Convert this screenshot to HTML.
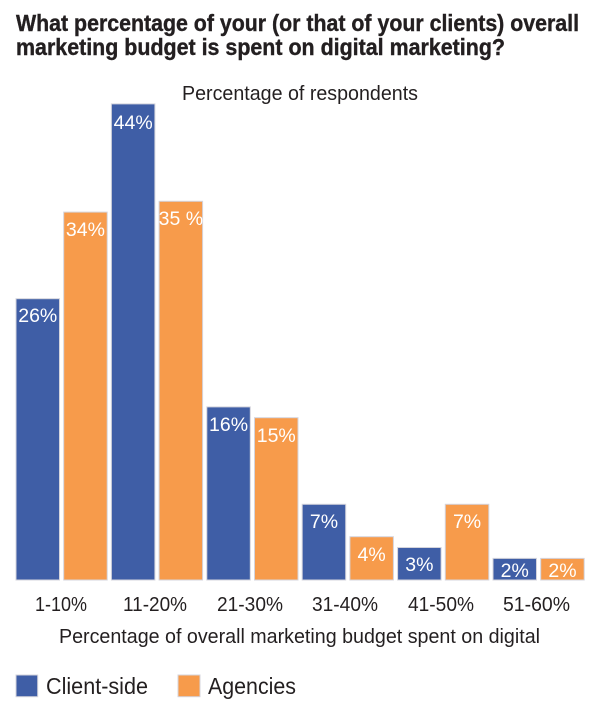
<!DOCTYPE html>
<html><head><meta charset="utf-8"><style>
html,body{margin:0;padding:0;background:#fff;}
svg{display:block;}
</style></head><body>
<svg width="600" height="721" viewBox="0 0 600 721" xmlns="http://www.w3.org/2000/svg" font-family="'Liberation Sans', Arial, sans-serif">
<rect width="600" height="721" fill="#fff"/>
<g fill="#231f20" stroke="#231f20" stroke-width="0.4" font-weight="bold" font-size="23.5">
<text x="16" y="31" textLength="563" lengthAdjust="spacingAndGlyphs">What percentage of your (or that of your clients) overall</text>
<text x="16" y="55" textLength="489" lengthAdjust="spacingAndGlyphs">marketing budget is spent on digital marketing?</text>
</g>
<text x="182" y="100" font-size="20.5" fill="#231f20" textLength="236" lengthAdjust="spacingAndGlyphs">Percentage of respondents</text>
<g stroke="#d4d4dc" stroke-width="1">
<rect x="16" y="298.7" width="43.5" height="281.3" fill="#3f5ea6"/>
<rect x="63.7" y="212.1" width="43.5" height="367.9" fill="#f79b4b"/>
<rect x="111.4" y="103.9" width="43.5" height="476.1" fill="#3f5ea6"/>
<rect x="159.1" y="201.3" width="43.5" height="378.7" fill="#f79b4b"/>
<rect x="206.8" y="406.9" width="43.5" height="173.1" fill="#3f5ea6"/>
<rect x="254.5" y="417.7" width="43.5" height="162.3" fill="#f79b4b"/>
<rect x="302.2" y="504.3" width="43.5" height="75.7" fill="#3f5ea6"/>
<rect x="349.9" y="536.7" width="43.5" height="43.3" fill="#f79b4b"/>
<rect x="397.6" y="547.5" width="43.5" height="32.5" fill="#3f5ea6"/>
<rect x="445.3" y="504.3" width="43.5" height="75.7" fill="#f79b4b"/>
<rect x="493" y="558.4" width="43.5" height="21.6" fill="#3f5ea6"/>
<rect x="540.7" y="558.4" width="43.5" height="21.6" fill="#f79b4b"/>
</g>
<g fill="#fff" font-size="19.5" text-anchor="middle">
<text x="37.75" y="322">26%</text>
<text x="85.45" y="236">34%</text>
<text x="133.15" y="129">44%</text>
<text x="180.85" y="225">35 %</text>
<text x="228.55" y="431">16%</text>
<text x="276.25" y="442">15%</text>
<text x="323.95" y="528">7%</text>
<text x="371.65" y="561">4%</text>
<text x="419.35" y="571">3%</text>
<text x="467.05" y="528">7%</text>
<text x="514.75" y="577">2%</text>
<text x="562.45" y="577">2%</text>
</g>
<g fill="#231f20" font-size="20">
<text x="35" y="611" textLength="52" lengthAdjust="spacingAndGlyphs">1-10%</text>
<text x="123" y="611" textLength="64" lengthAdjust="spacingAndGlyphs">11-20%</text>
<text x="217" y="611" textLength="66" lengthAdjust="spacingAndGlyphs">21-30%</text>
<text x="312" y="611" textLength="66" lengthAdjust="spacingAndGlyphs">31-40%</text>
<text x="408" y="611" textLength="66" lengthAdjust="spacingAndGlyphs">41-50%</text>
<text x="503" y="611" textLength="67" lengthAdjust="spacingAndGlyphs">51-60%</text>
<text x="59" y="643" textLength="481" lengthAdjust="spacingAndGlyphs">Percentage of overall marketing budget spent on digital</text>
</g>
<rect x="16" y="675" width="21.7" height="21.7" fill="#3f5ea6" stroke="#d4d4dc" stroke-width="1"/>
<text x="46" y="694" font-size="23" fill="#231f20" textLength="102" lengthAdjust="spacingAndGlyphs">Client-side</text>
<rect x="178" y="675" width="22" height="21.7" fill="#f79b4b" stroke="#d4d4dc" stroke-width="1"/>
<text x="208" y="694" font-size="23" fill="#231f20" textLength="88" lengthAdjust="spacingAndGlyphs">Agencies</text>
</svg>
</body></html>
